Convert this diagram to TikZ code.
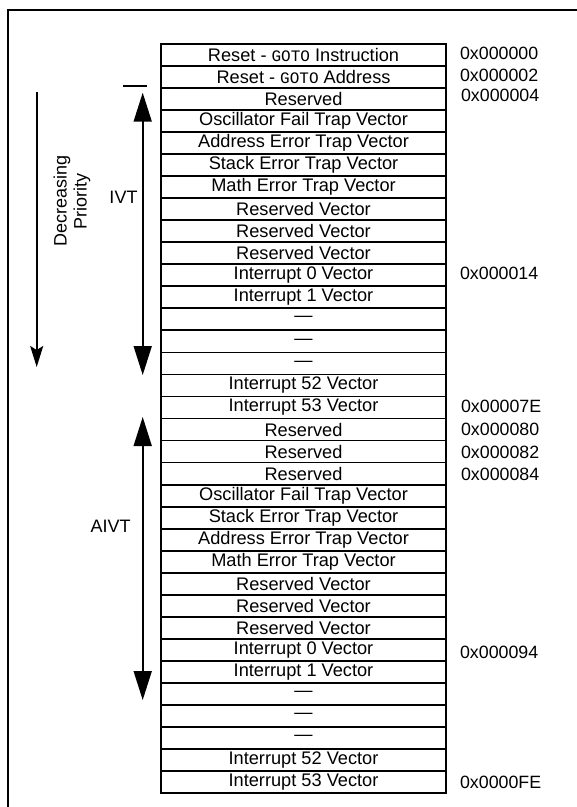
\documentclass[tikz,border=0pt]{standalone}
\usepackage{fontspec}
\setmainfont{Liberation Sans}
\newfontfamily\gotofont{Liberation Mono}
\usetikzlibrary{arrows.meta,calc}
\newcommand{\gotow}{{\gotofont\fontsize{16}{16}\selectfont GOTO}}
\begin{document}
\begin{tikzpicture}[x=1pt,y=-1pt,
  rowbox/.style={draw,line width=1.8pt,minimum width=285pt,minimum height=22.03pt,inner sep=0pt,anchor=center,font=\fontsize{18.2}{20}\selectfont},
  addr/.style={anchor=west,inner sep=0pt,font=\fontsize{17.8}{20}\selectfont},
  lbl/.style={inner sep=0pt,font=\fontsize{18}{20}\selectfont},
  spanarrow/.style={line width=1.7pt,{Triangle[length=29pt,width=18pt]}-{Triangle[length=29pt,width=18pt]}},
  prioarrow/.style={line width=1.7pt,-{Stealth[length=21pt,width=13pt,inset=4pt]}}]
\useasboundingbox (0,0) rectangle (577,807);
% frame
\coordinate (fbl) at (8,807);
\coordinate (ftl) at (8,10);
\coordinate (ftr) at (577,10);
\draw[line width=1.8pt] (fbl) -- (ftl) -- (ftr);
% rows
\foreach \i/\t in {1/{Reset - \gotow{} Instruction},2/{Reset - \gotow{} Address},3/Reserved,
  4/Oscillator Fail Trap Vector,5/Address Error Trap Vector,6/Stack Error Trap Vector,
  7/Math Error Trap Vector,8/Reserved Vector,9/Reserved Vector,10/Reserved Vector,
  11/Interrupt 0 Vector,12/Interrupt 1 Vector,13/\textemdash,14/\textemdash,15/\textemdash,
  16/Interrupt 52 Vector,17/Interrupt 53 Vector,18/Reserved,19/Reserved,20/Reserved,
  21/Oscillator Fail Trap Vector,22/Stack Error Trap Vector,23/Address Error Trap Vector,
  24/Math Error Trap Vector,25/Reserved Vector,26/Reserved Vector,27/Reserved Vector,
  28/Interrupt 0 Vector,29/Interrupt 1 Vector,30/\textemdash,31/\textemdash,32/\textemdash,
  33/Interrupt 52 Vector,34/Interrupt 53 Vector}
  {\node[rowbox] (r\i) at (303.5,{44+(\i-0.5)*22.03}) {\t};}
% addresses
\foreach \i/\a/\dx/\dy in {1/0x000000/13/-1.5,2/0x000002/13/-1.5,3/0x000004/14/-4,11/0x000014/13/-1.5,
  17/0x00007E/14/-1,18/0x000080/14/-0.5,19/0x000082/14/0.5,20/0x000084/14/0.5,28/0x000094/13/3,34/0x0000FE/13/0}
  {\node[addr] (a\i) at ($(r\i.east)+(\dx,\dy)$) {\a};}
% IVT arrow
\coordinate (ivtT) at (142.7,92.7);
\coordinate (ivtB) at (142.7,375);
\draw[spanarrow] (ivtT) -- (ivtB);
\coordinate (tickL) at (123,86);
\coordinate (tickR) at (147,86);
\draw[line width=1.7pt] (tickL) -- (tickR);
\node[lbl] (ivt) at (123.5,197) {IVT};
% AIVT arrow
\coordinate (aivtT) at (142.7,417);
\coordinate (aivtB) at (142.7,700);
\draw[spanarrow] (aivtT) -- (aivtB);
\node[lbl] (aivt) at (110.7,526) {AIVT};
% priority arrow
\coordinate (prT) at (36.7,92);
\coordinate (prB) at (36.7,367);
\draw[prioarrow] (prT) -- (prB);
\node[lbl,rotate=90,align=center] (prio) at (72,201) {Decreasing\\Priority};
\end{tikzpicture}
\end{document}
